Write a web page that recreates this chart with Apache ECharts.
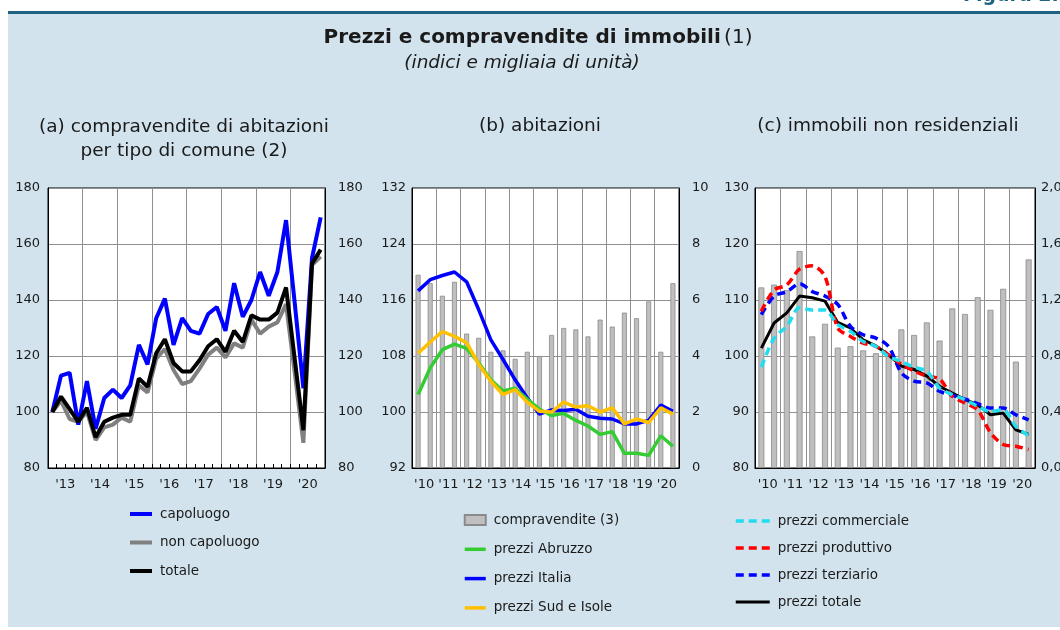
<!DOCTYPE html>
<html>
<head>
<meta charset="UTF-8">
<title>Prezzi e compravendite di immobili</title>
<style>
  body { margin: 0; background: #fff; }
  #wrap { position: relative; width: 1060px; height: 630px; overflow: hidden; }
  #rule { position: absolute; left: 8px; top: 11px; width: 1052px; height: 3px; background: #1e6282; }
  #panel { position: absolute; left: 8px; top: 14px; width: 1052px; height: 613px; background: #d2e3ed; }
  #main { position: absolute; left: 0; top: 0; width: 1060px; height: 630px; }
</style>
</head>
<body>
<div id="wrap">
  <div id="rule"></div>
  <div id="panel"></div>
  <div id="main"></div>
</div>
<script src="https://cdn.jsdelivr.net/npm/echarts@6.0.0/dist/echarts.min.js"></script>
<script type="text/javascript">
// (a) compravendite per tipo di comune, dati trimestrali 2013-2020
var anniA = ['13', '14', '15', '16', '17', '18', '19', '20'];
var capoluogo = [100, 113, 114, 95.5, 111, 94, 105, 108, 105, 109.5, 124, 117, 133.5, 140.5, 124, 133.5,
                 129, 128, 135, 137.5, 129, 146, 134, 140, 150, 141.5, 150, 168.5, 139, 108.5, 155, 169.5];
var nonCapoluogo = [100, 104, 97.5, 96.5, 100, 90, 94.5, 95.5, 98, 96.5, 109.5, 107, 119, 122.5, 115, 110,
                    111, 115.5, 120.5, 123, 119.5, 124.5, 123, 133, 128, 130.5, 132, 138.5, 114, 89, 152.5, 155.5];
var totaleA = [100, 105.5, 101, 96.5, 101.5, 91, 96.5, 98, 99, 99, 112, 109, 121, 126, 117.5, 114.5,
               114.5, 118.5, 123.5, 126, 121.5, 129, 125, 134.5, 133, 133, 135.5, 144.5, 119, 93.5, 153, 158];

// (b) e (c), dati semestrali 2010-2020
var anniBC = ['10', '11', '12', '13', '14', '15', '16', '17', '18', '19', '20'];
var compravenditeB = [6.9, 6.6, 6.15, 6.65, 4.8, 4.65, 4.15, 4.2, 3.9, 4.15, 4.0,
                      4.75, 5.0, 4.95, 4.7, 5.3, 5.05, 5.55, 5.35, 5.95, 4.15, 6.6];
var prezziAbruzzo = [102.5, 106.3, 108.9, 109.7, 109.1, 107.0, 104.6, 103.0, 103.4, 101.8, 100.4,
                     99.5, 99.8, 98.8, 98.0, 96.8, 97.2, 94.1, 94.1, 93.8, 96.6, 95.1];
var prezziItalia = [117.3, 118.9, 119.5, 120.0, 118.6, 114.6, 110.3, 107.5, 104.6, 102.0, 99.7,
                    100.3, 100.2, 100.4, 99.4, 99.1, 99.0, 98.3, 98.3, 98.8, 101.0, 100.1];
var prezziSud = [108.4, 110.0, 111.5, 110.8, 109.9, 106.8, 104.4, 102.5, 103.2, 101.4, 100.1,
                 100.0, 101.4, 100.7, 100.9, 100.0, 100.6, 98.3, 99.0, 98.5, 100.6, 99.7];

var compravenditeC = [1.29, 1.31, 1.27, 1.55, 0.94, 1.03, 0.86, 0.87, 0.84, 0.82, 0.80,
                      0.99, 0.95, 1.04, 0.91, 1.14, 1.10, 1.22, 1.13, 1.28, 0.76, 1.49];
var prezziCommerciale = [98.0, 103.2, 105.3, 108.6, 108.2, 108.2, 105.6, 104.4, 102.6, 101.7, 99.9,
                         99.0, 98.0, 97.3, 94.3, 93.1, 92.2, 91.0, 90.1, 90.4, 87.4, 85.8];
var prezziProduttivo = [108.0, 111.8, 112.7, 115.5, 116.1, 114.2, 105.0, 103.5, 102.3, 101.7, 100.2,
                        98.5, 97.3, 96.4, 95.9, 92.8, 91.6, 90.4, 86.3, 84.2, 83.9, 83.3];
var prezziTerziario = [107.4, 110.7, 111.5, 112.9, 111.5, 110.7, 109.2, 105.3, 103.8, 103.2, 101.7,
                       97.0, 95.5, 95.2, 93.7, 93.0, 92.3, 91.5, 90.7, 90.7, 89.5, 88.6];
var prezziTotale = [101.4, 105.9, 107.7, 110.7, 110.4, 109.8, 106.0, 105.0, 102.9, 101.8, 100.2,
                    98.2, 97.6, 96.4, 94.6, 93.4, 92.2, 91.3, 89.5, 89.8, 86.8, 86.0];

var trimestri = [];
anniA.forEach(function (a) { for (var q = 1; q <= 4; q++) trimestri.push(a + 'T' + q); });
var semestri = [];
anniBC.forEach(function (a) { semestri.push(a + 'S1', a + 'S2'); });

var FONT = 'DejaVu Sans';
var TXT = '#1a1a1a';
var GRIGIO = '#909090';

var myChart = echarts.init(document.getElementById('main'), null, { renderer: 'canvas' });

function assePeriodi(g, dati, tacche) {
    return {
        type: 'category', gridIndex: g, position: 'bottom', data: dati, boundaryGap: true,
        axisLine: { show: true, lineStyle: { color: '#000', width: 1 } },
        axisTick: { show: tacche, inside: true, length: 4, interval: 0, lineStyle: { color: '#000' } },
        axisLabel: { show: false }, splitLine: { show: false }
    };
}
function asseAnni(g, dati) {
    return {
        type: 'category', gridIndex: g, position: 'bottom', data: dati, boundaryGap: true,
        axisLine: { show: false }, axisTick: { show: false },
        axisLabel: { interval: 0, color: TXT, fontSize: 13, fontFamily: FONT, margin: 10,
                     formatter: function (v) { return "'" + v; } },
        splitLine: { show: true, interval: 0, lineStyle: { color: GRIGIO, width: 1 } }
    };
}
function asseValori(g, pos, min, max, step, griglia, margine, fmt) {
    return {
        type: 'value', gridIndex: g, position: pos, min: min, max: max, interval: step,
        axisLine: { show: true, lineStyle: { color: '#000' } }, axisTick: { show: false },
        axisLabel: { color: TXT, fontSize: 13, fontFamily: FONT, margin: margine, formatter: fmt },
        splitLine: { show: griglia, lineStyle: { color: GRIGIO, width: 1 } }
    };
}
function virgola(v) { return v.toFixed(1).replace('.', ','); }

function linea(nome, xi, yi, dati, colore, spessore, tratteggio, z) {
    return {
        name: nome, type: 'line', xAxisIndex: xi, yAxisIndex: yi, data: dati,
        symbol: 'none', smooth: tratteggio ? 0.3 : false, z: z,
        lineStyle: { color: colore, width: spessore, type: tratteggio ? [8, 5] : 'solid' },
        itemStyle: { color: colore }
    };
}
function barre(nome, xi, yi, dati, larghezza) {
    return {
        name: nome, type: 'bar', xAxisIndex: xi, yAxisIndex: yi, data: dati, barWidth: larghezza, z: 1,
        itemStyle: { color: '#bfbfbf', borderColor: '#8a8a8a', borderWidth: 0.8 }
    };
}
// voce di legenda solo linea (senza simbolo)
function voce(nome) { return { name: nome, itemStyle: { opacity: 0 } }; }

var griglia = { show: true, backgroundColor: '#fff', borderColor: '#000', borderWidth: 1,
                top: 188, height: 280, outerBoundsMode: 'none', containLabel: false };
var stileLegenda = { color: TXT, fontSize: 13.5, fontFamily: FONT, lineHeight: 16, padding: [0, 0, 0, 3] };
var legendaBase = { orient: 'vertical', padding: 0, textStyle: stileLegenda, lineStyle: { width: 'inherit' } };

var option = {
    animation: false,
    backgroundColor: 'transparent',
    graphic: [
        { type: 'text', x: 1072, y: 6, style: { text: 'Figura 2.5', align: 'right', verticalAlign: 'bottom',
          font: 'bold 19px "DejaVu Sans"', fill: '#1e6282' } },
        { type: 'text', x: 538, y: 38, style: {
          text: '{b|Prezzi e compravendite di immobili} {n|(1)}', align: 'center', verticalAlign: 'middle',
          rich: { b: { fontFamily: FONT, fontSize: 20, fontWeight: 'bold', fill: TXT },
                  n: { fontFamily: FONT, fontSize: 20, fill: TXT } } } },
        { type: 'text', x: 522, y: 63, style: { text: '(indici e migliaia di unità)', align: 'center',
          verticalAlign: 'middle', font: 'italic 18.5px "DejaVu Sans"', fill: TXT } },
        { type: 'text', x: 184, y: 127, style: { text: '(a) compravendite di abitazioni', align: 'center',
          verticalAlign: 'middle', font: '18.5px "DejaVu Sans"', fill: TXT } },
        { type: 'text', x: 184, y: 151, style: { text: 'per tipo di comune (2)', align: 'center',
          verticalAlign: 'middle', font: '18.5px "DejaVu Sans"', fill: TXT } },
        { type: 'text', x: 540, y: 126, style: { text: '(b) abitazioni', align: 'center',
          verticalAlign: 'middle', font: '18.5px "DejaVu Sans"', fill: TXT } },
        { type: 'text', x: 888, y: 126, style: { text: '(c) immobili non residenziali', align: 'center',
          verticalAlign: 'middle', font: '18.5px "DejaVu Sans"', fill: TXT } }
    ],
    grid: [
        Object.assign({}, griglia, { left: 48, width: 277 }),
        Object.assign({}, griglia, { left: 412, width: 267 }),
        Object.assign({}, griglia, { left: 755, width: 280 })
    ],
    xAxis: [
        assePeriodi(0, trimestri, true), asseAnni(0, anniA),
        assePeriodi(1, semestri, false), asseAnni(1, anniBC),
        assePeriodi(2, semestri, false), asseAnni(2, anniBC)
    ],
    yAxis: [
        asseValori(0, 'left', 80, 180, 20, true, 8),
        asseValori(0, 'right', 80, 180, 20, false, 13),
        asseValori(1, 'left', 92, 132, 8, true, 6),
        asseValori(1, 'right', 0, 10, 2, false, 13),
        asseValori(2, 'left', 80, 130, 10, true, 6),
        asseValori(2, 'right', 0, 2, 0.4, false, 6, virgola)
    ],
    legend: [
        Object.assign({}, legendaBase, { left: 128, top: 506, itemWidth: 22, itemHeight: 12, itemGap: 12.5,
          data: [voce('capoluogo'), voce('non capoluogo'), voce('totale')] }),
        Object.assign({}, legendaBase, { left: 463, top: 512, itemWidth: 21, itemHeight: 10, itemGap: 13.3,
          data: [{ name: 'compravendite (3)', icon: 'rect' }, voce('prezzi Abruzzo'), voce('prezzi Italia'),
                 voce('prezzi Sud e Isole')] }),
        Object.assign({}, legendaBase, { left: 734, top: 513, itemWidth: 34, itemHeight: 12, itemGap: 11,
          data: [voce('prezzi commerciale'), voce('prezzi produttivo'), voce('prezzi terziario'),
                 voce('prezzi totale')] })
    ],
    series: [
        linea('non capoluogo', 0, 0, nonCapoluogo, '#808080', 4, false, 3),
        linea('capoluogo', 0, 0, capoluogo, '#0000ff', 4, false, 4),
        linea('totale', 0, 0, totaleA, '#000000', 4, false, 5),

        barre('compravendite (3)', 2, 3, compravenditeB, 5),
        linea('prezzi Italia', 2, 2, prezziItalia, '#0000ff', 3.5, false, 3),
        linea('prezzi Abruzzo', 2, 2, prezziAbruzzo, '#33cc33', 3.5, false, 4),
        linea('prezzi Sud e Isole', 2, 2, prezziSud, '#ffc000', 3.5, false, 5),

        barre('compravendite non residenziali', 4, 5, compravenditeC, 6),
        linea('prezzi totale', 4, 4, prezziTotale, '#000000', 3, false, 3),
        linea('prezzi terziario', 4, 4, prezziTerziario, '#0000ff', 3.5, true, 4),
        linea('prezzi produttivo', 4, 4, prezziProduttivo, '#ff0000', 3.5, true, 5),
        linea('prezzi commerciale', 4, 4, prezziCommerciale, '#22ddee', 3.5, true, 6)
    ]
};

myChart.setOption(option);
</script>
</body>
</html>
